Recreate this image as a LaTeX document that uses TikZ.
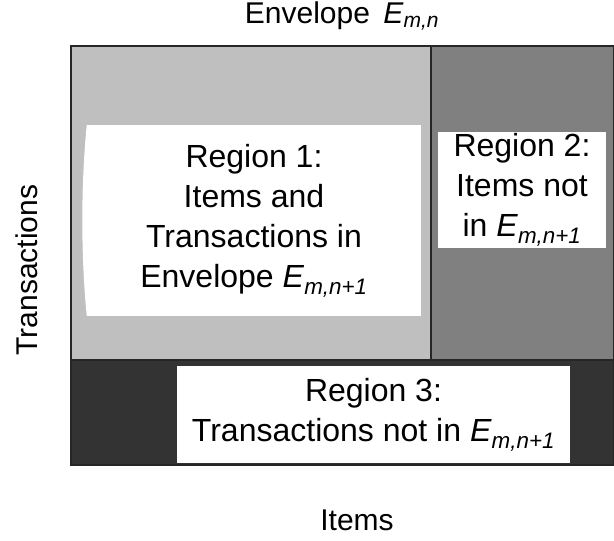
\documentclass[tikz,border=0pt]{standalone}
\usepackage{fontspec}
\setmainfont{Liberation Sans}
\newcommand{\envE}[1]{\textit{E}\textsubscript{\textit{#1}}}
\begin{document}
\begin{tikzpicture}[x=1pt,y=-1pt,
    box/.style={fill=white,inner sep=0pt,align=center,font=\fontsize{32}{40}\selectfont},
    axis/.style={font=\fontsize{30}{34}\selectfont}]
        \useasboundingbox (0,0) rectangle (614,541);
        % Define the regions of the envelope
        \fill[black!25] (71,46) rectangle (431,360);
        \fill[black!50] (431,46) rectangle (614,360);
        \fill[black!80] (71,360) rectangle (614,465);
        \draw[line width=1.5pt,black!85] (71,46) rectangle (614,465);
        \draw[line width=1.5pt,black!85] (71,360) -- (614,360);
        \draw[line width=1.5pt,black!85] (431,46) -- (431,360);
        % Define the text boxes
        \node[box,minimum width=334pt,minimum height=191pt] (r1) at (254,220.5)
            {Region 1:\\Items and\\Transactions in\\Envelope \envE{m,n+1}};
        \fill[white] (r1.north west) .. controls +(-6,60) and +(-6,-60) .. (r1.south west) -- cycle;
        \node[box,minimum width=168pt,minimum height=116pt] (r2) at (522,190)
            {Region 2:\\Items not\\in \envE{m,n+1}};
        \node[box,minimum width=393pt,minimum height=97pt] (r3) at (373.5,414.5)
            {Region 3:\\Transactions not in \envE{m,n+1}};
        % Axis labels
        \node[axis] (env) at (342,16) {Envelope\, \envE{m,n}};
        \node[axis] (items) at (357,520) {Items};
        \node[axis,rotate=90] (trans) at (27,270) {Transactions};
    \end{tikzpicture}
\end{document}
